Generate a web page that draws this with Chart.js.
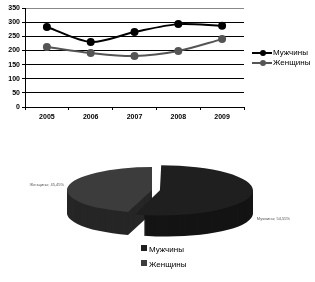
<!DOCTYPE html>
<html>
<head>
<meta charset="utf-8">
<script src="https://cdn.jsdelivr.net/npm/chart.js@4.4.1/dist/chart.umd.min.js"></script>
<style>
  body { margin: 0; background: #fff; font-family: Arial, "Liberation Sans", sans-serif; }
  #wrap { position: relative; width: 315px; height: 282px; overflow: hidden; }
  canvas { position: absolute; left: 0; }
  .leg { position: absolute; font-size: 8px; color: #000; white-space: nowrap; line-height: 10px; }
  .ln { display: inline-block; position: relative; width: 20px; height: 10px; vertical-align: top; margin-right: 1px; }
  .ln i { position: absolute; left: 0; right: 0; top: 4px; height: 2px; }
  .ln b { position: absolute; left: 8px; top: 2px; width: 6px; height: 6px; border-radius: 50%; }
  .sq { display: inline-block; width: 6px; height: 6px; margin-right: 2px; vertical-align: 1px; }
</style>
</head>
<body>
<div id="wrap">
  <canvas id="lineChart" width="315" height="130" style="top:0"></canvas>
  <canvas id="pieChart" width="315" height="142" style="top:140px"></canvas>
  <div class="leg" style="left:252px; top:48px">
    <div><span class="ln"><i style="background:#000"></i><b style="background:#000"></b></span>Мужчины</div>
    <div><span class="ln"><i style="background:#555"></i><b style="background:#555"></b></span>Женщины</div>
  </div>
  <div class="leg" style="left:141px; top:242px; line-height:15px">
    <div><span class="sq" style="background:#1f1f1f"></span>Мужчины</div>
    <div><span class="sq" style="background:#3c3c3c"></span>Женщины</div>
  </div>
</div>
<script>
// line chart data
const years = ["2005", "2006", "2007", "2008", "2009"];
const men = [283, 230, 265, 293, 287];
const women = [212, 191, 180, 198, 240];

// pie data
const pieLabels = ["Мужчины", "Женщины"];
const pieShares = [54.55, 45.45];

const tickFont = { family: "Arial", size: 7, weight: "bold" };

new Chart(document.getElementById("lineChart"), {
    type: "line",
    data: {
        labels: years,
        datasets: [
            {
                label: "Мужчины",
                data: men,
                borderColor: "#000",
                backgroundColor: "#000",
                borderWidth: 2,
                pointRadius: 3,
                tension: 0.3
            },
            {
                label: "Женщины",
                data: women,
                borderColor: "#555",
                backgroundColor: "#555",
                borderWidth: 2,
                pointRadius: 3,
                tension: 0.3
            }
        ]
    },
    options: {
        responsive: false,
        animation: false,
        layout: { padding: { left: 0, top: 8, right: 71, bottom: 0 } },
        plugins: { legend: { display: false }, tooltip: { enabled: false } },
        scales: {
            x: {
                offset: true,
                grid: {
                    offset: true,
                    color: (c) => c.index === years.length ? "#888" : "rgba(0,0,0,0)",
                    tickColor: "#000",
                    tickLength: 3
                },
                border: { color: "#000" },
                ticks: { font: tickFont, color: "#000", padding: 3, maxRotation: 0 },
                afterFit: (s) => { s.height = 23; }
            },
            y: {
                min: 0,
                max: 350,
                ticks: { stepSize: 50, font: tickFont, color: "#000", padding: 2 },
                grid: {
                    color: (c) => c.tick && c.tick.value === 350 ? "#888" : "#000",
                    tickColor: "#000",
                    tickLength: 3
                },
                border: { color: "#000" },
                afterFit: (s) => { s.width = 25; }
            }
        }
    }
});

// pseudo 3D pie: extrude the slices, then squash the top face
const depth = 23;
const squash = 0.27;
const topColors = ["#1f1f1f", "#3c3c3c"];
const sideColors = ["#141414", "#262626"];

function arcShift(arc) {
    const off = (arc.options.offset || 0) / 4;
    const fix = 1 - Math.sin(Math.min(Math.PI, arc.circumference || 0));
    const t = off + off * fix;
    const mid = (arc.startAngle + arc.endAngle) / 2;
    return { x: arc.x + Math.cos(mid) * t, y: arc.y + Math.sin(mid) * t };
}

const pie3d = {
    id: "pie3d",
    beforeDatasetsDraw(chart) {
        const ctx = chart.ctx;
        const arcs = chart.getDatasetMeta(0).data;
        const cy = arcs[0].y;
        for (let d = depth; d > 0; d--) {
            arcs.forEach((arc, i) => {
                const p = arcShift(arc);
                ctx.save();
                ctx.translate(0, cy + d);
                ctx.scale(1, squash);
                ctx.translate(0, -cy);
                ctx.beginPath();
                ctx.moveTo(p.x, p.y);
                ctx.arc(p.x, p.y, arc.outerRadius, arc.startAngle, arc.endAngle);
                ctx.closePath();
                ctx.fillStyle = sideColors[i];
                ctx.fill();
                ctx.restore();
            });
        }
        ctx.save();
        ctx.translate(0, cy);
        ctx.scale(1, squash);
        ctx.translate(0, -cy);
    },
    afterDatasetsDraw(chart) {
        const ctx = chart.ctx;
        ctx.restore();
        const arcs = chart.getDatasetMeta(0).data;
        ctx.save();
        ctx.font = "4px Arial";
        ctx.fillStyle = "#555";
        ctx.textBaseline = "middle";
        const m = arcShift(arcs[0]);
        const w = arcShift(arcs[1]);
        ctx.textAlign = "left";
        ctx.fillText(pieLabels[0] + "; " + pieShares[0].toFixed(2).replace(".", ",") + "%",
            m.x + arcs[0].outerRadius + 4, m.y + 27);
        ctx.textAlign = "right";
        ctx.fillText(pieLabels[1] + "; " + pieShares[1].toFixed(2).replace(".", ",") + "%",
            w.x - arcs[1].outerRadius - 3, w.y - 5);
        ctx.restore();
    }
};

new Chart(document.getElementById("pieChart"), {
    type: "pie",
    data: {
        labels: pieLabels,
        datasets: [{
            data: pieShares,
            backgroundColor: topColors,
            borderWidth: 0,
            offset: [32, 0]
        }]
    },
    options: {
        responsive: false,
        animation: false,
        radius: 85,
        layout: { padding: { left: 0, top: 0, right: 11, bottom: 42 } },
        plugins: { legend: { display: false }, tooltip: { enabled: false } }
    },
    plugins: [pie3d]
});
</script>
</body>
</html>
